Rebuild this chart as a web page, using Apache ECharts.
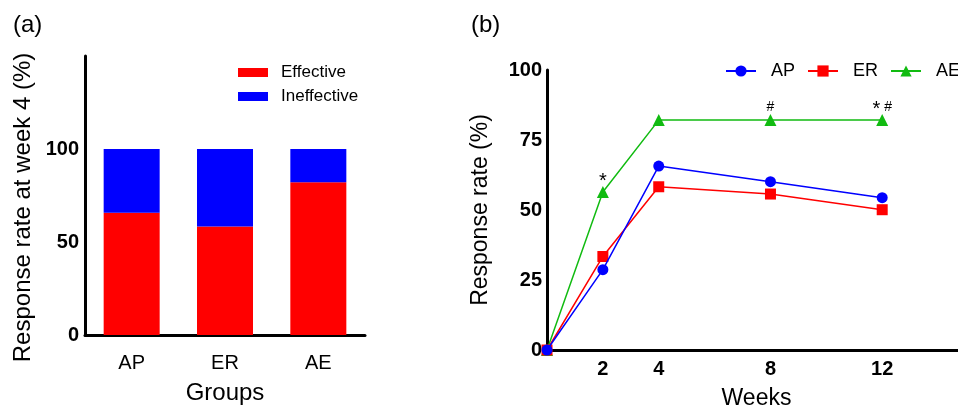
<!DOCTYPE html>
<html>
<head>
<meta charset="utf-8">
<script src="https://cdn.jsdelivr.net/npm/echarts@6/dist/echarts.min.js"></script>
<style>html,body{margin:0;padding:0;background:#fff}#c{width:958px;height:410px}</style>
</head>
<body>
<div id="c"></div>
<script>
var groups = ['AP', 'ER', 'AE'];
var effective = [65.7, 58.3, 82.1];
var ineffective = [34.3, 41.7, 17.9];
var barTicks = [0, 50, 100];

var weeks = [0, 2, 4, 8, 12];
var weekTicks = [2, 4, 8, 12];
var rateTicks = [0, 25, 50, 75, 100];
var apRate = [0, 28.7, 65.7, 60.1, 54.4];
var erRate = [0, 33.4, 58.3, 55.7, 50.1];
var aeRate = [0, 56.4, 82.1, 82.1, 82.1];
var aeMarks = ['', '*', '', '#', '* #'];

var FONT = 'Liberation Sans, Arial, sans-serif';
var chart = echarts.init(document.getElementById('c'));

function markText(m) {
  return m.split('').map(function (ch) {
    if (ch === '*') return '{s|*}';
    if (ch === '#') return '{h|#}';
    return '{h| }';
  }).join('');
}

function pairs(vals, marks) {
  return weeks.map(function (w, i) {
    var item = { value: [w, vals[i]] };
    if (marks && marks[i]) {
      item.label = {
        show: true, position: 'top', distance: 0, formatter: markText(marks[i]),
        rich: {
          s: { fontSize: 20, fontFamily: FONT, color: '#000', verticalAlign: 'bottom', padding: [0, 0, -5, 0] },
          h: { fontSize: 14, fontFamily: FONT, color: '#000', verticalAlign: 'bottom' }
        }
      };
    }
    return item;
  });
}

var axisLineStyle = { lineStyle: { color: '#000', width: 3 } };

chart.setOption({
  animation: false,
  backgroundColor: '#fff',
  title: [
    { text: '(a)', left: 8, top: 8, textStyle: { fontSize: 24, fontWeight: 'normal', fontFamily: FONT, color: '#000' } },
    { text: '(b)', left: 466, top: 8, textStyle: { fontSize: 24, fontWeight: 'normal', fontFamily: FONT, color: '#000' } }
  ],
  legend: [
    {
      data: ['Effective', 'Ineffective'], orient: 'vertical', left: 233, top: 59,
      icon: 'rect', itemWidth: 30, itemHeight: 9, itemGap: 7,
      textStyle: { fontSize: 17, fontFamily: FONT, color: '#000', padding: [0, 0, 0, 8] }
    },
    {
      data: ['AP', 'ER', 'AE'], orient: 'horizontal', left: 720, top: 57, width: 400,
      itemWidth: 30, itemHeight: 14, itemGap: 12,
      textStyle: { fontSize: 18, fontFamily: FONT, color: '#000', padding: [0, 0, 0, 10] }
    }
  ],
  grid: [
    { left: 85, top: 56, width: 280, height: 279, outerBoundsMode: 'none', containLabel: false },
    { left: 547, top: 70, width: 419, height: 280, outerBoundsMode: 'none', containLabel: false }
  ],
  xAxis: [
    {
      gridIndex: 0, type: 'category', data: groups,
      axisLine: axisLineStyle, axisTick: { show: false },
      axisLabel: { fontSize: 20, fontFamily: FONT, color: '#000', margin: 18 },
      name: 'Groups', nameLocation: 'middle', nameGap: 46,
      nameTextStyle: { fontSize: 24, fontFamily: FONT, color: '#000' }
    },
    {
      gridIndex: 1, type: 'value', min: 0, max: 15,
      axisLine: axisLineStyle, axisTick: { show: false }, splitLine: { show: false },
      axisLabel: { customValues: weekTicks, fontSize: 20, fontWeight: 'bold', fontFamily: FONT, color: '#000', margin: 9 },
      name: 'Weeks', nameLocation: 'middle', nameGap: 37,
      nameTextStyle: { fontSize: 23, fontFamily: FONT, color: '#000', align: 'center' }
    }
  ],
  yAxis: [
    {
      gridIndex: 0, type: 'value', min: 0, max: 150, interval: 50,
      axisLine: { show: true, lineStyle: { color: '#000', width: 3 } }, axisTick: { show: false }, splitLine: { show: false },
      axisLabel: { customValues: barTicks, fontSize: 20, fontWeight: 'bold', fontFamily: FONT, color: '#000', margin: 6 },
      name: 'Response rate at week 4 (%)', nameLocation: 'middle', nameGap: 50,
      nameTextStyle: { fontSize: 24, fontFamily: FONT, color: '#000', padding: [0, 24, 0, 0] }
    },
    {
      gridIndex: 1, type: 'value', min: 0, max: 100, interval: 25,
      axisLine: { show: true, lineStyle: { color: '#000', width: 3 } }, axisTick: { show: false }, splitLine: { show: false },
      axisLabel: { customValues: rateTicks, fontSize: 20, fontWeight: 'bold', fontFamily: FONT, color: '#000', margin: 5 },
      name: 'Response rate (%)', nameLocation: 'middle', nameGap: 55,
      nameTextStyle: { fontSize: 23, fontFamily: FONT, color: '#000' }
    }
  ],
  series: [
    { name: 'Effective', type: 'bar', stack: 'a', xAxisIndex: 0, yAxisIndex: 0, data: effective, barWidth: '60%', itemStyle: { color: '#ff0000' } },
    { name: 'Ineffective', type: 'bar', stack: 'a', xAxisIndex: 0, yAxisIndex: 0, data: ineffective, barWidth: '60%', itemStyle: { color: '#0000ff' } },
    { name: 'AP', type: 'line', xAxisIndex: 1, yAxisIndex: 1, data: pairs(apRate), z: 5,
      symbol: 'circle', symbolSize: 11, lineStyle: { color: '#0000ff', width: 1.5 }, itemStyle: { color: '#0000ff' } },
    { name: 'ER', type: 'line', xAxisIndex: 1, yAxisIndex: 1, data: pairs(erRate), z: 4,
      symbol: 'rect', symbolSize: 11, lineStyle: { color: '#ff0000', width: 1.5 }, itemStyle: { color: '#ff0000' } },
    { name: 'AE', type: 'line', xAxisIndex: 1, yAxisIndex: 1, data: pairs(aeRate, aeMarks), z: 3,
      symbol: 'triangle', symbolSize: 12, lineStyle: { color: '#11bb11', width: 1.5 }, itemStyle: { color: '#11bb11' } }
  ]
});
</script>
</body>
</html>
